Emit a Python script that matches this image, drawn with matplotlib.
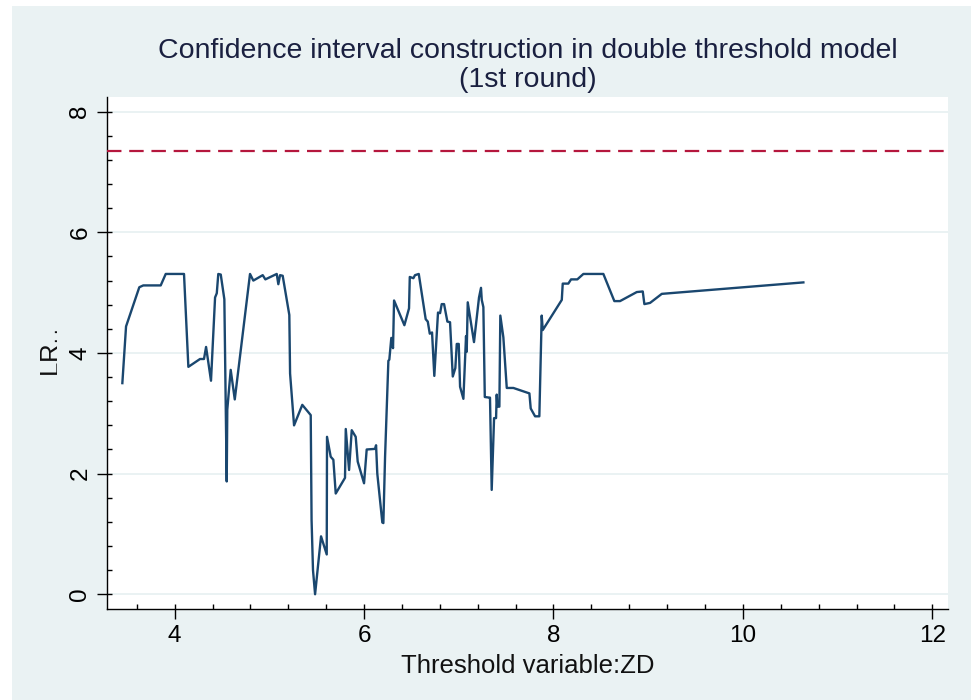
import matplotlib
matplotlib.use('Agg')
import matplotlib.pyplot as plt
from matplotlib.patches import Rectangle
from matplotlib.ticker import MultipleLocator

plt.rcParams['font.family'] = ['Liberation Sans', 'DejaVu Sans']

# threshold variable ZD and LR statistic
zd = [3.448, 3.487, 3.627, 3.669, 3.853, 3.906, 4.099, 4.145, 4.268, 4.310,
      4.332, 4.384, 4.427, 4.445, 4.461, 4.487, 4.525, 4.550, 4.556, 4.592,
      4.635, 4.796, 4.831, 4.930, 4.958, 5.078, 5.095, 5.113, 5.141, 5.211,
      5.219, 5.261, 5.348, 5.437, 5.446, 5.461, 5.483, 5.546, 5.606, 5.609,
      5.648, 5.676, 5.701, 5.799, 5.807, 5.842, 5.870, 5.912, 5.933, 6.000,
      6.028, 6.116, 6.127, 6.140, 6.193, 6.204, 6.222, 6.257, 6.267, 6.288,
      6.306, 6.317, 6.426, 6.475, 6.483, 6.521, 6.538, 6.578, 6.651, 6.673,
      6.694, 6.718, 6.742, 6.781, 6.803, 6.820, 6.845, 6.880, 6.908, 6.937,
      6.964, 6.979, 7.000, 7.014, 7.049, 7.077, 7.084, 7.095, 7.161, 7.214,
      7.235, 7.243, 7.260, 7.275, 7.323, 7.330, 7.348, 7.373, 7.394, 7.401,
      7.408, 7.429, 7.439, 7.471, 7.507, 7.577, 7.746, 7.760, 7.806, 7.851,
      7.876, 7.887, 8.088, 8.098, 8.157, 8.186, 8.252, 8.316, 8.527, 8.643,
      8.703, 8.880, 8.943, 8.960, 9.020, 9.144, 10.639]
lr = [3.50, 4.44, 5.09, 5.12, 5.12, 5.31, 5.31, 3.77, 3.90, 3.90,
      4.10, 3.54, 4.92, 4.99, 5.31, 5.30, 4.89, 1.87, 3.06, 3.72,
      3.23, 5.31, 5.20, 5.29, 5.22, 5.31, 5.14, 5.29, 5.28, 4.63,
      3.66, 2.80, 3.14, 2.97, 1.23, 0.40, 0.00, 0.96, 0.66, 2.61,
      2.28, 2.23, 1.67, 1.93, 2.74, 2.06, 2.72, 2.61, 2.20, 1.84,
      2.40, 2.41, 2.47, 2.00, 1.19, 1.18, 2.28, 3.87, 3.89, 4.25,
      4.08, 4.87, 4.46, 4.74, 5.26, 5.24, 5.29, 5.31, 4.56, 4.52,
      4.32, 4.34, 3.62, 4.67, 4.66, 4.81, 4.81, 4.52, 4.51, 3.61,
      3.75, 4.15, 4.15, 3.44, 3.24, 4.28, 4.02, 4.84, 4.18, 4.92,
      5.08, 4.88, 4.76, 3.27, 3.26, 3.26, 1.73, 2.92, 2.92, 3.31,
      3.11, 3.11, 4.62, 4.26, 3.42, 3.42, 3.33, 3.08, 2.95, 2.95,
      4.62, 4.38, 4.88, 5.15, 5.15, 5.22, 5.22, 5.31, 5.31, 4.86,
      4.86, 5.01, 5.02, 4.81, 4.83, 4.98, 5.17]
crit_95 = 7.35

bg = '#eaf2f3'
fig = plt.figure(figsize=(9.71, 7.0), dpi=100, facecolor='white')
fig.add_artist(Rectangle((12 / 971, 0), 1 - 12 / 971, 694 / 700,
                         transform=fig.transFigure, facecolor=bg,
                         edgecolor='none', zorder=-5))
ax = fig.add_axes([0.1105, 0.1296, 0.8661, 0.7323])
ax.set_facecolor('white')

ax.plot(zd, lr, color='#1a476f', lw=1.7, zorder=3)
ax.axhline(crit_95, color='#b5173d', lw=1.6, dashes=(6.5, 3.5), zorder=3)

ax.set_xlim(3.289, 12.169)
ax.set_ylim(-0.249, 8.249)
ax.set_xticks([4, 6, 8, 10, 12])
ax.set_yticks([0, 2, 4, 6, 8])
ax.xaxis.set_minor_locator(MultipleLocator(0.4))
ax.yaxis.set_minor_locator(MultipleLocator(0.4))
ax.xaxis.remove_overlapping_locs = False
ax.yaxis.remove_overlapping_locs = False
ax.grid(True, which='major', axis='y', color=bg, lw=1.4, zorder=1)

for s in ['top', 'right']:
    ax.spines[s].set_visible(False)
for s in ['left', 'bottom']:
    ax.spines[s].set_color('black')
    ax.spines[s].set_linewidth(1.0)

ax.tick_params(which='major', direction='out', length=7.5, width=1.0,
               labelsize=17.5, colors='black', pad=4)
ax.tick_params(which='minor', direction='in', length=3.5, width=1.0, colors='black')
ax.tick_params(axis='y', which='major', labelrotation=90)
for t in ax.get_yticklabels():
    t.set_va('center')

ax.set_xlabel('Threshold variable:ZD', fontsize=18.5, labelpad=5, color='#111111')
ax.set_ylabel(r'LR$_{\cdot\cdot}$', fontsize=18.5, labelpad=7, color='#111111')
ax.set_title('Confidence interval construction in double threshold model\n(1st round)',
             fontsize=20.5, color='#1a2040', pad=7, linespacing=1.15)

fig.savefig('out.png', dpi=100, facecolor=fig.get_facecolor())
